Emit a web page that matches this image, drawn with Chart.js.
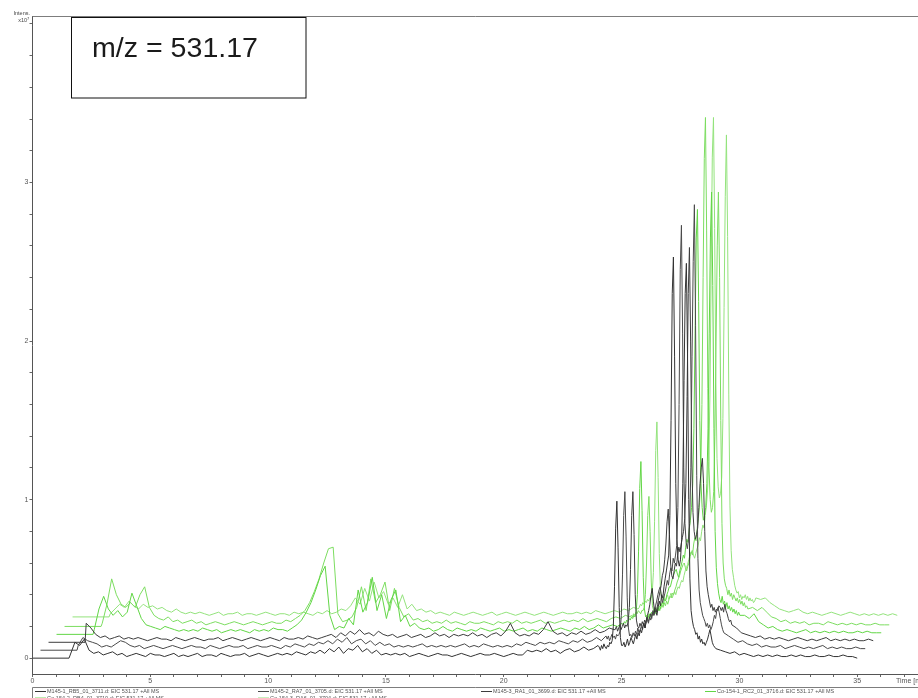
<!DOCTYPE html>
<html>
<head>
<meta charset="utf-8">
<script src="https://cdn.jsdelivr.net/npm/chart.js@4.4.1/dist/chart.umd.min.js"></script>
<style>
html,body{margin:0;padding:0;background:#fff;}
#wrap{width:918px;height:698px;position:relative;overflow:hidden;}
canvas{display:block;}
</style>
</head>
<body>
<div id="wrap"><canvas id="c" width="918" height="698"></canvas></div>
<script>
// ---- Retention time grid (min) shared by all traces ----
const times = [
0,1.55,
1.6,1.8,2,2.2,2.4,2.6,2.8,3,3.2,3.4,
3.6,3.8,4,4.2,4.4,4.6,4.8,5,5.2,5.4,
5.6,5.8,6,6.2,6.4,6.6,6.8,7,7.2,7.4,
7.6,7.8,8,8.2,8.4,8.6,8.8,9,9.2,9.4,
9.6,9.8,10,10.2,10.4,10.6,10.8,11,11.2,11.4,
11.6,11.8,12,12.2,12.4,12.6,12.8,13,13.2,13.4,
13.6,13.8,14,14.2,14.4,14.6,14.8,15,15.2,15.4,
15.6,15.8,16,16.2,16.4,16.6,16.8,17,17.2,17.4,
17.6,17.8,18,18.2,18.4,18.6,18.8,19,19.2,19.4,
19.6,19.8,20,20.2,20.4,20.6,20.8,21,21.2,21.4,
21.6,21.8,22,22.2,22.4,22.6,22.8,23,23.2,23.4,
23.6,23.8,24,
24.05,24.1,24.15,24.2,24.25,24.3,24.35,24.4,24.45,24.5,
24.55,24.6,24.65,24.7,24.75,24.8,24.85,24.9,24.95,25,
25.05,25.1,25.15,25.2,25.25,25.3,25.35,25.4,25.45,25.5,
25.55,25.6,25.65,25.7,25.75,25.8,25.85,25.9,25.95,26,
26.05,26.1,26.15,26.2,26.25,26.3,26.35,26.4,26.45,26.5,
26.55,26.6,26.65,26.7,26.75,26.8,26.85,26.9,26.95,27,
27.05,27.1,27.15,27.2,27.25,27.3,27.35,27.4,27.45,27.5,
27.55,27.6,27.65,27.7,27.75,27.8,27.85,27.9,27.95,28,
28.05,28.1,28.15,28.2,28.25,28.3,28.35,28.4,28.45,28.5,
28.55,28.6,28.65,28.7,28.75,28.8,28.85,28.9,28.95,29,
29.2,29.4,29.6,29.8,30,30.2,30.4,30.6,30.8,31,
31.2,31.4,31.6,31.8,32,32.2,32.4,32.6,32.8,33,
33.2,33.4,33.6,33.8,34,34.2,34.4,34.6,34.8,35
];

// ---- EIC 531.17 intensities (x10^7) ----
const m145_1 = [
0,0,
0.02,0.1,0.08,0.12,0.05,0.03,0.04,0.02,0.03,0.04,
0.02,0.03,0.01,0.02,0.03,0.02,0.01,0.03,0.02,0.02,
0.01,0.02,0.03,0.01,0.02,0.01,0.02,0.03,0.01,0.02,
0.02,0.01,0.03,0.02,0.01,0.02,0.02,0.03,0.01,0.02,
0.03,0.02,0.01,0.02,0.03,0.02,0.03,0.02,0.04,0.03,
0.02,0.04,0.03,0.05,0.03,0.06,0.04,0.07,0.03,0.06,
0.05,0.08,0.04,0.06,0.03,0.05,0.02,0.03,0.02,0.03,
0.02,0.03,0.01,0.02,0.03,0.02,0.01,0.02,0.03,0.02,
0.02,0.01,0.02,0.03,0.02,0.01,0.02,0.03,0.02,0.02,
0.03,0.02,0.01,0.02,0.03,0.02,0.02,0.05,0.04,0.05,
0.04,0.06,0.04,0.05,0.03,0.05,0.06,0.04,0.05,0.07,
0.05,0.06,0.08,
0.07,0.05,0.08,0.06,0.09,0.07,0.06,0.08,0.07,0.1,
0.09,0.11,0.2,0.45,0.82,0.99,0.7,0.32,0.13,0.08,
0.08,0.1,0.07,0.09,0.12,0.08,0.1,0.13,0.11,0.09,
0.12,0.15,0.12,0.16,0.14,0.18,0.16,0.2,0.22,0.19,
0.24,0.27,0.3,0.34,0.4,0.44,0.36,0.29,0.3,0.27,
0.32,0.36,0.33,0.4,0.38,0.45,0.5,0.55,0.6,0.65,
0.9,1.5,2.3,2.53,1.9,1.1,0.75,0.62,0.58,0.62,
0.75,1.1,1.75,2.3,2.49,1.9,1.0,0.5,0.3,0.24,
0.2,0.18,0.15,0.16,0.12,0.14,0.1,0.12,0.09,0.1,
0.08,0.1,0.12,0.15,0.18,0.14,0.1,0.08,0.07,0.06,
0.05,0.04,0.03,0.04,0.02,0.03,0.02,0.01,0.02,0.01,
0.02,0.01,0.02,0.01,0.01,0.02,0.01,0.02,0.01,0.01,
0.02,0.01,0.01,0.02,0.01,0.01,0.02,0.01,0.01,0
];
const m145_2 = [
0,0,
0.03,0.08,0.06,0.05,0.04,0.02,0.03,0.02,0.04,0.06,
0.05,0.03,0.02,0.03,0.01,0.02,0.03,0.02,0.01,0.02,
0.03,0.02,0.01,0.02,0.03,0.02,0.02,0.01,0.03,0.02,
0.01,0.02,0.03,0.02,0.02,0.03,0.01,0.02,0.03,0.02,
0.02,0.03,0.02,0.01,0.03,0.02,0.04,0.03,0.02,0.04,
0.03,0.05,0.04,0.06,0.04,0.07,0.05,0.08,0.04,0.06,
0.07,0.04,0.06,0.03,0.05,0.03,0.04,0.02,0.03,0.02,
0.03,0.02,0.03,0.04,0.02,0.03,0.02,0.03,0.02,0.03,
0.02,0.03,0.04,0.02,0.03,0.02,0.04,0.03,0.02,0.03,
0.02,0.03,0.02,0.04,0.03,0.05,0.04,0.03,0.05,0.04,
0.05,0.04,0.06,0.05,0.04,0.06,0.05,0.07,0.05,0.06,
0.08,0.06,0.09,
0.07,0.09,0.06,0.08,0.1,0.08,0.09,0.07,0.1,0.09,
0.1,0.12,0.22,0.48,0.85,1.0,0.72,0.33,0.14,0.09,
0.1,0.08,0.11,0.09,0.12,0.1,0.14,0.11,0.13,0.15,
0.13,0.17,0.14,0.18,0.2,0.17,0.21,0.19,0.23,0.22,
0.25,0.28,0.31,0.35,0.38,0.4,0.34,0.3,0.33,0.36,
0.4,0.44,0.41,0.48,0.52,0.5,0.58,0.55,0.6,0.66,
0.9,1.55,2.4,2.68,2.0,1.15,0.8,0.68,0.64,0.7,
0.8,1.15,1.85,2.45,2.81,2.05,1.1,0.58,0.38,0.3,
0.26,0.22,0.2,0.18,0.15,0.17,0.14,0.16,0.13,0.15,
0.18,0.22,0.2,0.25,0.27,0.24,0.2,0.16,0.13,0.11,
0.09,0.07,0.05,0.06,0.04,0.03,0.04,0.02,0.03,0.02,
0.02,0.03,0.01,0.02,0.03,0.02,0.01,0.02,0.01,0.02,
0.03,0.01,0.02,0.01,0.02,0.01,0.01,0.02,0.01,0.01
];
const m145_3 = [
0,0,
0.12,0.09,0.05,0.03,0.04,0.02,0.03,0.04,0.02,0.03,
0.02,0.03,0.02,0.01,0.02,0.03,0.02,0.02,0.01,0.03,
0.02,0.01,0.02,0.03,0.02,0.01,0.02,0.02,0.03,0.01,
0.02,0.03,0.02,0.01,0.02,0.03,0.02,0.01,0.02,0.03,
0.02,0.01,0.03,0.02,0.02,0.03,0.02,0.04,0.03,0.02,
0.03,0.04,0.05,0.03,0.06,0.04,0.07,0.05,0.08,0.05,
0.06,0.04,0.07,0.05,0.04,0.05,0.03,0.04,0.05,0.03,
0.04,0.05,0.03,0.04,0.06,0.04,0.05,0.03,0.05,0.04,
0.05,0.04,0.06,0.04,0.05,0.03,0.05,0.06,0.04,0.07,
0.12,0.06,0.04,0.05,0.04,0.06,0.05,0.08,0.13,0.07,
0.05,0.06,0.04,0.06,0.05,0.07,0.05,0.06,0.08,0.06,
0.07,0.09,0.08,
0.08,0.1,0.07,0.09,0.11,0.08,0.1,0.12,0.09,0.11,
0.1,0.13,0.22,0.46,0.8,0.95,0.68,0.3,0.14,0.1,
0.09,0.12,0.1,0.13,0.11,0.14,0.12,0.16,0.13,0.15,
0.18,0.15,0.2,0.17,0.22,0.19,0.24,0.28,0.32,0.36,
0.42,0.45,0.52,0.62,0.76,0.84,0.68,0.5,0.42,0.4,
0.45,0.5,0.48,0.55,0.6,0.57,0.62,0.66,0.7,0.78,
1.0,1.55,2.2,2.49,1.9,1.15,0.82,0.7,0.65,0.68,
0.72,0.85,1.0,1.1,1.16,1.0,0.7,0.45,0.35,0.3,
0.26,0.22,0.24,0.2,0.22,0.19,0.21,0.2,0.23,0.22,
0.2,0.22,0.19,0.24,0.2,0.18,0.15,0.13,0.14,0.11,
0.09,0.06,0.05,0.04,0.03,0.04,0.02,0.03,0.02,0.03,
0.02,0.01,0.02,0.03,0.02,0.01,0.02,0.01,0.02,0.03,
0.01,0.02,0.01,0.02,0.01,0.02,0.01,0.01,0.02,0.01
];
const co154_1 = [
0,0,
0.03,0.16,0.24,0.16,0.12,0.15,0.11,0.14,0.26,0.18,
0.1,0.06,0.05,0.04,0.03,0.05,0.04,0.03,0.02,0.03,
0.02,0.03,0.02,0.04,0.03,0.02,0.03,0.01,0.02,0.03,
0.02,0.03,0.02,0.01,0.03,0.02,0.03,0.02,0.04,0.03,
0.03,0.02,0.04,0.06,0.09,0.14,0.2,0.28,0.37,0.43,
0.12,0.03,0.05,0.04,0.1,0.06,0.28,0.14,0.2,0.36,
0.15,0.25,0.1,0.22,0.28,0.08,0.12,0.05,0.07,0.04,
0.03,0.04,0.02,0.03,0.05,0.03,0.02,0.04,0.03,0.02,
0.03,0.02,0.04,0.03,0.02,0.03,0.04,0.02,0.03,0.02,
0.03,0.04,0.02,0.03,0.02,0.04,0.03,0.02,0.03,0.04,
0.03,0.02,0.04,0.03,0.05,0.03,0.04,0.06,0.04,0.05,
0.06,0.05,0.07,
0.06,0.08,0.07,0.09,0.08,0.1,0.09,0.11,0.1,0.12,
0.11,0.14,0.25,0.52,0.92,1.09,0.78,0.36,0.16,0.11,
0.12,0.1,0.13,0.11,0.14,0.12,0.15,0.13,0.16,0.14,
0.17,0.15,0.18,0.2,0.19,0.22,0.21,0.25,0.27,0.3,
0.3,0.33,0.36,0.38,0.4,0.41,0.38,0.36,0.4,0.43,
0.46,0.5,0.48,0.55,0.6,0.58,0.66,0.72,0.8,0.95,
1.3,1.9,2.5,2.68,2.1,1.35,0.95,0.8,0.72,0.75,
0.8,0.95,1.3,1.9,2.5,2.79,2.2,1.3,0.65,0.42,
0.32,0.26,0.22,0.2,0.24,0.19,0.21,0.17,0.2,0.16,
0.18,0.15,0.17,0.14,0.16,0.13,0.15,0.12,0.14,0.12,
0.12,0.1,0.13,0.08,0.06,0.04,0.05,0.03,0.02,0.03,
0.02,0.01,0.02,0.03,0.01,0.02,0.01,0.02,0.01,0.02,
0.01,0.02,0.01,0.01,0.02,0.01,0.02,0.01,0.01,0.01
];
const co154_2 = [
0,0,
0.02,0.14,0.3,0.2,0.14,0.12,0.15,0.12,0.2,0.25,
0.12,0.07,0.05,0.04,0.06,0.03,0.04,0.02,0.03,0.04,
0.02,0.03,0.01,0.02,0.03,0.02,0.01,0.02,0.03,0.02,
0.01,0.02,0.03,0.02,0.01,0.02,0.03,0.02,0.02,0.04,
0.03,0.05,0.07,0.1,0.15,0.22,0.3,0.4,0.49,0.5,
0.08,0.03,0.04,0.06,0.12,0.25,0.1,0.3,0.15,0.2,
0.28,0.1,0.24,0.12,0.06,0.08,0.04,0.05,0.03,0.04,
0.02,0.03,0.02,0.04,0.02,0.03,0.02,0.01,0.03,0.02,
0.02,0.03,0.02,0.01,0.03,0.02,0.03,0.02,0.04,0.02,
0.03,0.02,0.03,0.04,0.02,0.03,0.02,0.03,0.04,0.03,
0.04,0.03,0.05,0.03,0.04,0.05,0.04,0.03,0.05,0.06,
0.05,0.07,0.06,
0.07,0.06,0.08,0.07,0.09,0.08,0.1,0.09,0.08,0.1,
0.1,0.12,0.2,0.4,0.7,0.82,0.6,0.28,0.13,0.1,
0.11,0.09,0.12,0.1,0.13,0.11,0.14,0.12,0.15,0.13,
0.16,0.14,0.17,0.19,0.18,0.21,0.2,0.23,0.25,0.28,
0.3,0.32,0.35,0.37,0.39,0.4,0.37,0.35,0.38,0.4,
0.44,0.47,0.45,0.52,0.56,0.54,0.62,0.68,0.78,0.95,
1.4,2.2,2.95,3.21,2.5,1.5,1.0,0.8,0.72,0.75,
0.85,1.2,1.8,2.4,2.74,2.2,1.3,0.65,0.4,0.3,
0.26,0.24,0.2,0.23,0.19,0.21,0.17,0.2,0.18,0.16,
0.18,0.15,0.17,0.14,0.16,0.13,0.15,0.12,0.13,0.11,
0.12,0.1,0.12,0.09,0.06,0.05,0.03,0.04,0.02,0.03,
0.02,0.03,0.01,0.02,0.02,0.01,0.03,0.02,0.01,0.02,
0.01,0.02,0.01,0.02,0.01,0.01,0.02,0.01,0.01,0.01
];
const co154_3 = [
0,0,
0.02,0.05,0.08,0.06,0.1,0.07,0.05,0.08,0.06,0.07,
0.05,0.06,0.04,0.03,0.05,0.03,0.02,0.03,0.02,0.03,
0.02,0.01,0.02,0.03,0.01,0.02,0.02,0.03,0.01,0.02,
0.02,0.01,0.02,0.03,0.02,0.01,0.02,0.02,0.01,0.03,
0.02,0.03,0.02,0.01,0.03,0.02,0.04,0.02,0.03,0.05,
0.04,0.07,0.12,0.08,0.18,0.1,0.22,0.12,0.16,0.08,
0.12,0.06,0.14,0.05,0.08,0.04,0.05,0.03,0.04,0.02,
0.03,0.02,0.01,0.03,0.02,0.01,0.02,0.03,0.02,0.01,
0.02,0.03,0.01,0.02,0.03,0.02,0.01,0.02,0.03,0.02,
0.01,0.02,0.03,0.02,0.01,0.02,0.03,0.02,0.02,0.03,
0.02,0.03,0.02,0.04,0.03,0.02,0.03,0.04,0.03,0.05,
0.04,0.06,0.05,
0.06,0.08,0.07,0.09,0.08,0.1,0.09,0.11,0.1,0.12,
0.12,0.15,0.28,0.6,1.05,1.23,0.88,0.4,0.17,0.12,
0.11,0.13,0.1,0.12,0.14,0.11,0.13,0.15,0.12,0.14,
0.16,0.14,0.17,0.19,0.18,0.21,0.23,0.22,0.26,0.29,
0.31,0.33,0.36,0.39,0.41,0.42,0.39,0.37,0.4,0.43,
0.45,0.5,0.48,0.54,0.58,0.56,0.64,0.7,0.8,0.98,
1.4,2.15,2.9,3.15,2.45,1.5,1.0,0.82,0.75,0.78,
0.88,1.25,1.95,2.65,3.04,2.4,1.4,0.7,0.42,0.3,
0.25,0.2,0.17,0.15,0.16,0.12,0.14,0.11,0.13,0.12,
0.14,0.11,0.13,0.1,0.12,0.1,0.11,0.09,0.1,0.12,
0.11,0.12,0.09,0.07,0.05,0.04,0.03,0.04,0.05,0.03,
0.02,0.03,0.02,0.01,0.02,0.03,0.02,0.01,0.02,0.03,
0.02,0.01,0.02,0.01,0.02,0.01,0.02,0.01,0.02,0.01
];

const seriesLabels = [
  'M145-1_RB5_01_3711.d: EIC 531.17 +All MS',
  'M145-2_RA7_01_3705.d: EIC 531.17 +All MS',
  'M145-3_RA1_01_3699.d: EIC 531.17 +All MS',
  'Co-154-1_RC2_01_3716.d: EIC 531.17 +All MS',
  'Co-154-2_RB4_01_3710.d: EIC 531.17 +All MS',
  'Co-154-3_RA6_01_3704.d: EIC 531.17 +All MS'
];
const seriesValues = [m145_1, m145_2, m145_3, co154_1, co154_2, co154_3];
const xTickLabels = ['0','5','10','15','20','25','30','35'];
const yTickLabels = ['0','1','2','3'];

// ---- display styling (overlay offsets of the stacked view) ----
const seriesColors = ['#333333','#4a4a4a','#3d3d3d','#62d646','#7cdd60','#93e37c'];
const stackShiftX = [0, 0.34, 0.68, 1.02, 1.36, 1.70];
const stackShiftY = [0, 0.05, 0.10, 0.15, 0.20, 0.26];

seriesValues.forEach((arr, k) => {
  if (arr.length !== times.length) throw new Error('length mismatch in series ' + k + ': ' + arr.length + ' vs ' + times.length);
});

const datasets = seriesValues.map((vals, k) => ({
  label: seriesLabels[k],
  data: times.map((t, i) => ({ x: t + stackShiftX[k], y: vals[i] + stackShiftY[k] })),
  borderColor: seriesColors[k],
  backgroundColor: seriesColors[k],
  borderWidth: 1,
  pointRadius: 0,
  tension: 0,
  fill: false
}));

const FONT = '"Liberation Sans", Arial, sans-serif';

const decor = {
  id: 'decor',
  afterDraw(chart) {
    const c = chart.ctx, a = chart.chartArea;
    c.save();
    // top frame line
    c.strokeStyle = '#7d7d7d'; c.lineWidth = 1;
    c.beginPath(); c.moveTo(a.left, a.top + 0.5); c.lineTo(chart.width, a.top + 0.5); c.stroke();

    // y-axis title
    c.fillStyle = '#444';
    c.font = '5.5px ' + FONT; c.textAlign = 'right'; c.textBaseline = 'alphabetic';
    c.fillText('Intens.', 30, 15);
    c.fillText('x10', 27, 22);
    c.font = '4px ' + FONT; c.textAlign = 'left';
    c.fillText('7', 27, 19.5);

    // x-axis title (cut at the right edge as in the original)
    c.font = '7px ' + FONT; c.textAlign = 'left'; c.fillStyle = '#555';
    c.fillText('Time [min]', 896, 683);

    // annotation box
    c.fillStyle = '#fff'; c.fillRect(71, 17, 235, 81);
    c.strokeStyle = '#111'; c.lineWidth = 1;
    c.strokeRect(71.5, 17.5, 234.5, 80.5);
    c.fillStyle = '#1a1a1a';
    c.font = '27px ' + FONT; c.textAlign = 'left';
    const txt = 'm/z = 531.17';
    const w = c.measureText(txt).width;
    c.save(); c.translate(92, 57); c.scale(166 / w, 1); c.fillText(txt, 0, 0); c.restore();

    // legend box
    c.strokeStyle = '#7d7d7d'; c.lineWidth = 1;
    c.beginPath(); c.moveTo(32.5, 698); c.lineTo(32.5, 687.5); c.lineTo(chart.width, 687.5); c.stroke();
    const slots = [
      [35, 691], [258, 691], [481, 691], [705, 691],
      [35, 697.5], [258, 697.5]
    ];
    c.font = '5.5px ' + FONT; c.textBaseline = 'middle'; c.textAlign = 'left';
    chart.data.datasets.forEach((ds, k) => {
      const [sx, sy] = slots[k];
      c.strokeStyle = ds.borderColor; c.lineWidth = 1;
      c.beginPath(); c.moveTo(sx, sy + 0.5); c.lineTo(sx + 11, sy + 0.5); c.stroke();
      c.fillStyle = '#555';
      c.fillText(ds.label, sx + 12, sy + 0.5);
    });
    c.restore();
  }
};

new Chart(document.getElementById('c'), {
  type: 'line',
  data: { datasets },
  plugins: [decor],
  options: {
    responsive: false,
    animation: false,
    parsing: false,
    normalized: true,
    layout: { padding: { left: 0, right: 0, top: 16, bottom: 0 } },
    plugins: { legend: { display: false }, tooltip: { enabled: false } },
    scales: {
      x: {
        type: 'linear', min: 0, max: 37.58, position: 'bottom',
        afterFit: s => { s.height = 24; s.paddingLeft = 0; s.paddingRight = 0; },
        afterBuildTicks: s => { const t = []; for (let v = 0; v <= 37; v++) t.push({ value: v }); s.ticks = t; },
        ticks: {
          autoSkip: false, maxRotation: 0, minRotation: 0, padding: 0,
          color: '#555', font: { size: 7, family: FONT },
          callback: v => (xTickLabels.includes(String(v)) ? String(v) : '')
        },
        grid: { drawOnChartArea: false, drawTicks: true, tickLength: 3, color: '#666', tickColor: '#666' },
        border: { display: true, color: '#555', width: 1 }
      },
      y: {
        type: 'linear', min: -0.1, max: 4.05,
        afterFit: s => { s.width = 32.5; },
        afterBuildTicks: s => { const t = []; for (let i = 0; i <= 20; i++) t.push({ value: i / 5 }); s.ticks = t; },
        ticks: {
          autoSkip: false, padding: 1,
          color: '#555', font: { size: 7, family: FONT },
          callback: v => (yTickLabels.includes(String(v)) ? String(v) : '')
        },
        grid: { drawOnChartArea: false, drawTicks: true, tickLength: 3, color: '#666', tickColor: '#666' },
        border: { display: true, color: '#555', width: 1 }
      }
    }
  }
});
</script>
</body>
</html>
